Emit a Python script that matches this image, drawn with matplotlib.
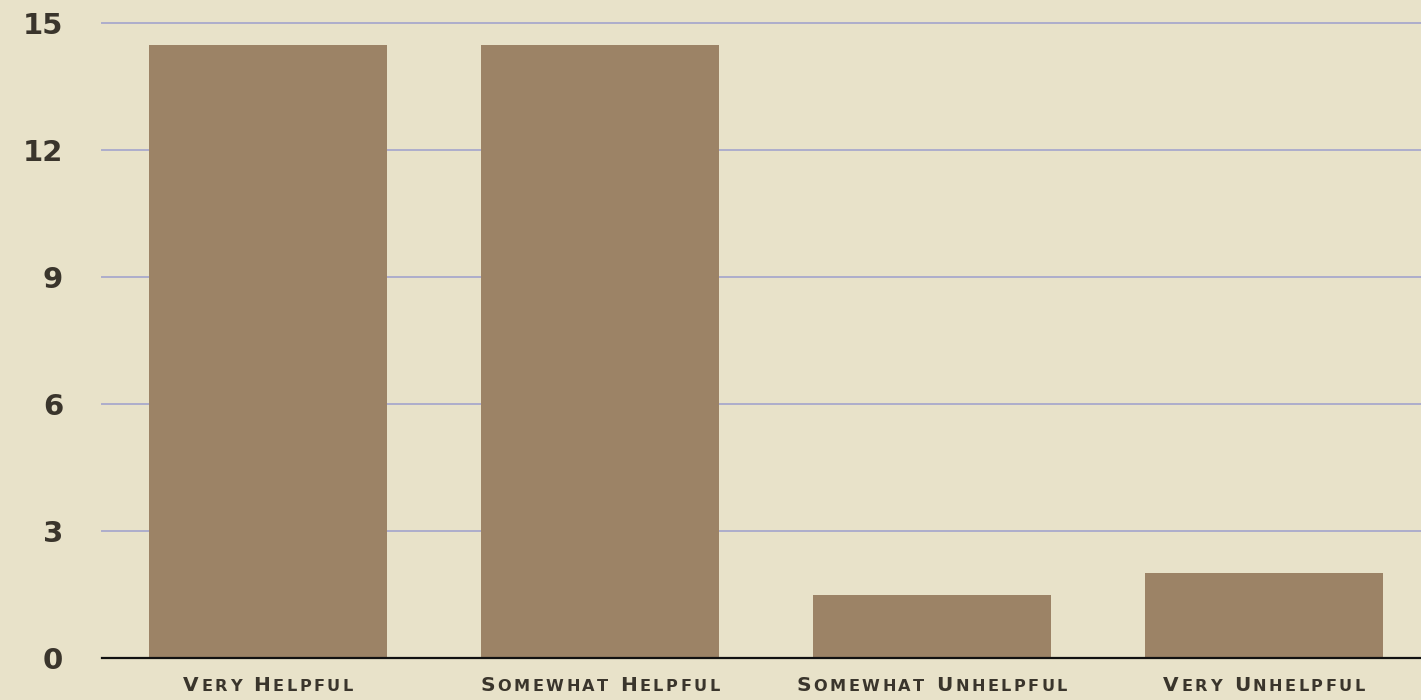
import numpy as np
import matplotlib
matplotlib.use("Agg")
import matplotlib.pyplot as plt
import matplotlib.patheffects as pe
from matplotlib.offsetbox import TextArea, HPacker, AnnotationBbox

categories = ["Very Helpful", "Somewhat Helpful", "Somewhat Unhelpful", "Very Unhelpful"]
counts = [14.5, 14.5, 1.5, 2.0]
y_ticks = [0, 3, 6, 9, 12, 15]

bg = "#e8e2c9"
bar_col = "#9c8366"
text_col = "#3a352c"
grid_col = "#adadcc"


def small_caps(s, big, small, spacing):
    # one box per character, lowercase drawn as smaller capitals, spread apart
    parts = []
    for ch in s:
        size = small if ch.islower() else big
        parts.append(TextArea(ch.upper(), textprops=dict(fontsize=size, fontweight="bold",
                                                         color=text_col, family="DejaVu Sans")))
    return HPacker(children=parts, align="baseline", pad=0, sep=spacing)


fig = plt.figure(figsize=(14.21, 7.0), dpi=100)
fig.patch.set_facecolor(bg)
ax = fig.add_axes([102 / 1421, 0.06, 1328 / 1421, 0.9065])
ax.set_facecolor(bg)

x = np.arange(len(categories))
bars = ax.bar(x, counts, width=0.716, color=bar_col, zorder=3)
for b in bars:
    b.set_path_effects([pe.SimplePatchShadow(offset=(0, 0), shadow_rgbFace="#6b6450", alpha=0.25),
                        pe.Normal()])

ax.set_xlim(-0.5, len(categories) - 0.5)
ax.set_ylim(0, 15)
ax.set_yticks(y_ticks)
ax.set_yticklabels([str(v) for v in y_ticks], fontsize=21, fontweight="bold", color=text_col)
ax.tick_params(axis="y", length=0, pad=28)
ax.tick_params(axis="x", length=0)
ax.set_xticks([])

for v in y_ticks[1:]:
    ax.axhline(v, color=grid_col, lw=1.4, zorder=1, clip_on=False)

for s in ["top", "right", "left"]:
    ax.spines[s].set_visible(False)
ax.spines["bottom"].set_color("#111111")
ax.spines["bottom"].set_linewidth(1.6)
ax.spines["bottom"].set_zorder(4)

for xi, lab in zip(x, categories):
    box = small_caps(lab, 14.5, 11.6, 1.8)
    ab = AnnotationBbox(box, (xi, 0), xycoords=ax.get_xaxis_transform(),
                        xybox=(0, -13), boxcoords="offset points",
                        box_alignment=(0.5, 1.0), frameon=False, annotation_clip=False)
    ax.add_artist(ab)

fig.savefig("out.png", dpi=100, facecolor=bg)
